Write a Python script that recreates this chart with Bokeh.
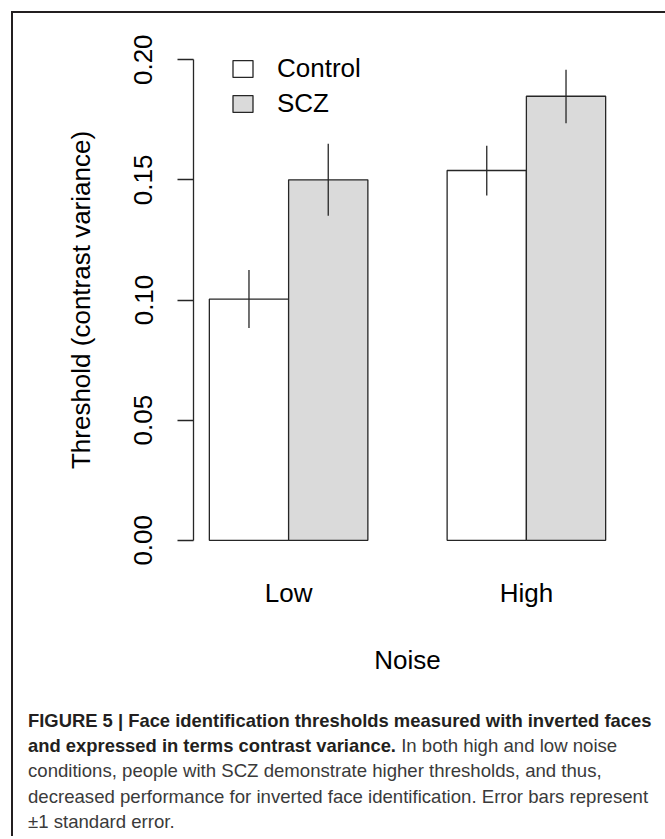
from bokeh.plotting import figure
from bokeh.layouts import column
from bokeh.models import (Range1d, FixedTicker, NumeralTickFormatter,
                          Legend, LegendItem, ColumnDataSource, Div)
from bokeh.embed import file_html
from bokeh.resources import INLINE

# ---------------- data ----------------
groups = ["Low", "High"]
conditions = ["Control", "SCZ"]
control_mean = [0.1004, 0.1539]
control_lower = [0.0883, 0.1435]
control_upper = [0.1125, 0.1642]
scz_mean = [0.1500, 0.1848]
scz_lower = [0.1351, 0.1736]
scz_upper = [0.1650, 0.1958]
y_ticks = [0.00, 0.05, 0.10, 0.15, 0.20]
y_label = "Threshold (contrast variance)"
x_label = "Noise"
caption_bold = ["FIGURE 5 | Face identification thresholds measured with inverted faces",
                "and expressed in terms contrast variance."]
caption_regular = ["In both high and low noise",
                   "conditions, people with SCZ demonstrate higher thresholds, and thus,",
                   "decreased performance for inverted face identification. Error bars represent",
                   "\u00b11 standard error."]

# ---------------- layout (R barplot, beside=TRUE) ----------------
n_c = len(conditions)
group_start = [1 + g * (n_c + 1) for g in range(len(groups))]
control_x = [s + 0.5 for s in group_start]
scz_x = [s + 1.5 for s in group_start]
group_centers = [s + n_c / 2 for s in group_start]
x_lo, x_hi = group_start[0], group_start[-1] + n_c
x_pad = 0.04 * (x_hi - x_lo)
y_lo, y_hi = y_ticks[0], y_ticks[-1]
y_pad = 0.04 * (y_hi - y_lo)

FONT = "Liberation Sans"
INK = "#262626"
W = 652
H1 = 687
H2 = 136

p = figure(width=W, height=H1, output_backend="svg", toolbar_location=None,
           x_range=Range1d(x_lo - x_pad, x_hi + x_pad),
           y_range=Range1d(y_lo - y_pad, y_hi + y_pad),
           min_border_left=180, min_border_right=44,
           min_border_top=27, min_border_bottom=141)
p.outline_line_color = None
p.grid.visible = False

src_c = ColumnDataSource(dict(x=control_x, top=control_mean, lo=control_lower, hi=control_upper))
src_s = ColumnDataSource(dict(x=scz_x, top=scz_mean, lo=scz_lower, hi=scz_upper))

r1 = p.vbar(x="x", top="top", bottom=0, width=1, source=src_c,
            fill_color="white", line_color=INK, line_width=1.3)
r2 = p.vbar(x="x", top="top", bottom=0, width=1, source=src_s,
            fill_color="#DADADA", line_color=INK, line_width=1.3)
p.segment(x0="x", y0="lo", x1="x", y1="hi", source=src_c, line_color=INK, line_width=1.3)
p.segment(x0="x", y0="lo", x1="x", y1="hi", source=src_s, line_color=INK, line_width=1.3)

# y axis
ya = p.yaxis[0]
ya.ticker = FixedTicker(ticks=y_ticks)
ya.formatter = NumeralTickFormatter(format="0.00")
ya.bounds = (y_lo, y_hi)
ya.major_tick_out = 16
ya.major_tick_in = 0
ya.minor_tick_line_color = None
ya.axis_line_color = INK
ya.axis_line_width = 1.3
ya.major_tick_line_color = INK
ya.major_tick_line_width = 1.3
ya.major_label_orientation = "vertical"
ya.major_label_standoff = 25
ya.major_label_text_font = FONT
ya.major_label_text_font_size = "26px"
ya.major_label_text_color = "black"
ya.axis_label = y_label
ya.axis_label_text_font = FONT
ya.axis_label_text_font_size = "26px"
ya.axis_label_text_font_style = "normal"
ya.axis_label_text_color = "black"
ya.axis_label_standoff = 36

# x axis
xa = p.xaxis[0]
xa.ticker = FixedTicker(ticks=group_centers)
xa.major_label_overrides = {c: g for c, g in zip(group_centers, groups)}
xa.axis_line_color = None
xa.major_tick_line_color = None
xa.minor_tick_line_color = None
xa.major_tick_out = 0
xa.major_label_standoff = 18
xa.major_label_text_font = FONT
xa.major_label_text_font_size = "26px"
xa.major_label_text_color = "black"
xa.axis_label = x_label
xa.axis_label_text_font = FONT
xa.axis_label_text_font_size = "26px"
xa.axis_label_text_font_style = "normal"
xa.axis_label_text_color = "black"
xa.axis_label_standoff = 34

# legend
legend = Legend(items=[LegendItem(label=conditions[0], renderers=[r1]),
                       LegendItem(label=conditions[1], renderers=[r2])],
                location=(37, 440), border_line_color=None, background_fill_alpha=0,
                padding=0, margin=0, spacing=4, glyph_width=25, glyph_height=21,
                label_height=30, label_standoff=22,
                label_text_font=FONT, label_text_font_size="26px",
                label_text_color="black")
p.add_layout(legend)

# caption
LH = "25.35px"
def b(t):
    return f'<span style="font-weight:bold;font-size:18.4px;line-height:{LH};color:#231f20">{t}</span>'
def r(t):
    return f'<span style="font-weight:normal;font-size:18.6px;line-height:{LH};color:#3a3a3a">{t}</span>'
def line(content):
    return (f'<div style="height:{LH};line-height:{LH};font-size:18.5px;margin:0;padding:0;'
            f'white-space:nowrap">{content}</div>')
lines = [b(caption_bold[0]),
         b(caption_bold[1]) + " " + r(caption_regular[0])] + [r(t) for t in caption_regular[1:]]
html = ('<div style="font-family:\'Liberation Sans\';margin:0;padding:7.8px 0 0 15px;">'
        + "".join(line(c) for c in lines) + "</div>")
cap = Div(text=html, width=W, height=H2, margin=0,
          styles={"margin": "0", "padding": "0", "overflow": "hidden"})

page = column(p, cap, spacing=0, margin=(11, 0, 0, 11),
              styles={"border-left": "2px solid #231f20", "border-top": "2px solid #231f20"})

open("out.html", "w").write(file_html(page, INLINE))
